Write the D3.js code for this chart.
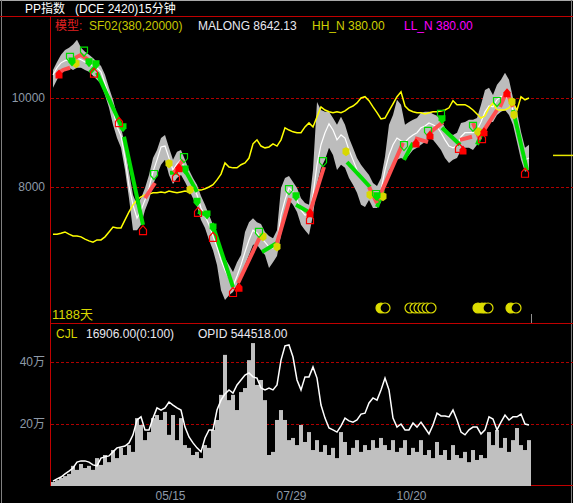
<!DOCTYPE html>
<html><head><meta charset="utf-8">
<script src="https://cdn.jsdelivr.net/npm/d3@7"></script>
<style>
html,body{margin:0;padding:0;background:#000;}
svg{display:block;}
text{font-family:"Liberation Sans","Noto Sans CJK SC",sans-serif;}
</style></head>
<body>
<script>
// ---------- DATA ----------
const priceTicks = [8000, 10000];
const volTicks = [20, 40];
const volTickLabels = ["20万", "40万"];
const dateTickPos = [29.25, 59.5, 89.5];
const dateTickLabels = ["05/15", "07/29", "10/20"];

const closeVals = [10520,10680,10790,10840,10860,10860,10900,10860,10810,10770,10720,10680,10590,10320,10050,9730,9350,9150,8650,8020,
7600,7300,7480,7710,7980,8340,8610,8900,8920,8650,8380,8520,8610,8380,8200,8020,7820,7530,7350,7150,
6900,6650,6360,6130,5950,5770,6000,6250,6540,6810,7030,6970,6850,6760,6650,6630,6740,7370,7710,7980,
7890,7710,7480,7370,7390,7820,8500,8950,9220,9420,9280,9060,9170,9100,8830,8610,8380,8220,8090,8000,
7820,7750,7930,8380,8720,8950,9100,9040,9010,9100,9170,9220,9330,9370,9440,9400,9350,9220,9060,8920,
8880,8920,9130,9220,9220,9220,9280,9460,9690,9820,9800,9960,10030,10050,9960,9730,9350,8900,8610,8650];

const highVals = [10630,10810,10970,11080,11130,11200,11310,11130,11040,10970,10900,10810,10720,10520,10230,9960,9620,9330,8950,8340,
7820,7600,7750,7980,8270,8650,8830,9100,9170,8880,8610,8790,8830,8610,8380,8200,8050,7800,7600,7370,
7150,6920,6630,6400,6250,6090,6310,6470,6990,7210,7300,7210,7170,6990,6900,6850,7030,7980,8200,8250,
8110,7980,7750,7640,7600,8380,9910,9730,9690,9690,9550,9400,9580,9400,9100,8880,8650,8500,8380,8270,
8090,8020,8200,8680,9400,9620,9960,9850,9400,9460,9510,9550,9670,9690,9690,9640,9600,9510,9330,9220,
9170,9220,9440,9460,9510,9510,9550,9850,10180,10230,10070,10300,10410,10570,10410,10000,9690,9240,8880,8950];

const lowVals = [10230,10410,10590,10630,10680,10630,10680,10680,10630,10590,10500,10410,10320,10070,9780,9400,9100,8880,8380,7750,
7030,7030,7150,7480,7710,8050,8270,8500,8610,8270,8070,8200,8270,8110,7930,7750,7570,7260,7080,6810,
6580,6250,5680,5460,5570,5640,5800,6020,6250,6470,6700,6700,6580,6470,6180,6310,6450,6920,7370,7710,
7600,7440,7150,7030,6920,7370,8050,8430,8610,8880,8720,8380,8500,8430,8200,8050,7870,7600,7550,7710,
7530,7530,7660,8050,8380,8500,8610,8650,8610,8720,8830,8880,8950,9010,9100,9060,8950,8830,8650,8540,
8610,8650,8830,8880,8880,8830,8950,9100,9330,9460,9460,9620,9690,9730,9620,9400,9010,8610,8340,8380];

const yellowVals = [6940,6940,6960,6990,6940,6900,6900,6880,6830,6790,6760,6810,6810,6880,6990,7100,7080,7080,7260,7440,
7600,7710,7780,7820,7840,7870,7870,7890,7870,7910,7890,7870,7890,7910,7890,7930,7930,7930,7960,8000,
8050,8160,8290,8540,8450,8430,8430,8500,8540,8650,8970,9060,8920,8880,8900,8970,8920,9060,9330,9280,
9240,9220,9220,9350,9440,9350,9580,9800,9730,9690,9670,9690,9670,9710,9780,9820,9890,10000,10030,9940,
9800,9670,9530,9550,9710,9870,10030,10140,9820,9730,9690,9670,9670,9640,9670,9690,9690,9710,9730,9780,
9940,9850,9850,9850,9800,9730,9640,9550,9600,9780,9890,9730,9730,9730,9780,9890,9730,10030,9960,10000];

const malongMark = 8710;

// trend segments: [barPos, price] polylines
const greenSegs = [
 [[9.25,10570],[11,10750]],
 [[11,10570],[17.5,9280]],
 [[17.75,9130],[22.5,7150]],
 [[29.25,8320],[31.25,8320]],
 [[33,8380],[36,7890]],
 [[36.25,7440],[38.75,7370]],
 [[39.75,7190],[45,5750]],
 [[52.25,6540],[56,6740]],
 [[60.75,7600],[64.25,7420]],
 [[73.5,8560],[79.25,8000]],
 [[81,7550],[82.5,7930]],
 [[87.75,8610],[90,8990]],
 [[97.25,9330],[101.75,8950]],
 [[106,8950],[107.5,9280]],
 [[115,9730],[118.5,8380]]
];
const redSegs = [
 [[1,10540],[2.5,10630],[4.25,10680]],
 [[5.5,10900],[7,10970],[8.75,10860]],
 [[23,7750],[25.5,8090]],
 [[30.25,8320],[32.5,8610]],
 [[46.25,5840],[51.75,6880]],
 [[56,6740],[59.25,7750]],
 [[64.25,7440],[67.75,8450]],
 [[79,8000],[81,7640]],
 [[81.25,7710],[87.5,8990]],
 [[90.5,9100],[93.75,9010]],
 [[94.5,9240],[97.5,9460]],
 [[101.75,9060],[104.75,9130]],
 [[105,9440],[106.75,9060]],
 [[107.75,9280],[111,9730]],
 [[111.75,9800],[113.25,10120]],
 [[113.5,10120],[115,9800]]
];

// signal markers [barPos, price]
const greenHollow = [[4.25,10900],[7.75,11040],[25.25,8270],[32.75,8650],[51.5,6970],[59,7930],[67.5,8560],[80.75,7820],[87.75,8920],[93.75,9240],[97,9620],[105,9350],[111,9910]];
const greenFilled = [[4.75,10810],[9,10790],[10.75,10750],[17.5,9330],[33,8380],[36,7660],[38.5,7370],[40,7080],[60.75,7780],[81,7780],[97.25,9510]];
const redFilled = [[1.5,10540],[31.5,8430],[46.5,5750],[64.25,7420],[90.75,8990],[94.25,9170],[102.5,8830],[107.75,9240],[113.5,10120]];
const redHollow = [[10.25,10570],[16.5,9460],[22.5,7030],[30.75,8230],[36.25,7440],[40,6880],[45,5640],[64.25,7280],[101.5,8880],[107.25,9100],[118,8320]];
const yellowFilled = [[5.75,10770],[29,8520],[34.25,7930],[52.5,6880],[56,6650],[73.25,8790],[79.25,7820],[82.5,7780],[106.25,9240],[114.75,9910],[115.25,9620]];

// bottom signal circles [barPos, filled(1)/outline(0)]
const circleSignals = [[82,1],[83,0],[89.25,0],[90.5,0],[91.5,0],[92.5,0],[93.5,0],[94.5,0],[106.25,1],[107.25,1],[108,1],[108.75,0],[114.5,1],[115.75,0]];

// volume (万) and open interest (万)
const volVals = [1.3,1.9,2.6,3.2,3.9,6.5,5.2,7.1,5.8,6.5,5.2,9.0,6.8,10.0,7.7,11.6,9.0,12.3,10.0,13.2,
11.0,21.9,19.7,14.8,17.4,21.9,22.9,21.3,23.9,16.5,22.9,14.8,21.9,13.2,12.3,10.0,11.0,9.0,13.2,12.3,
18.1,21.3,29.4,42.3,27.7,29.4,24.5,30.3,31.6,40.6,46.1,32.6,34.2,27.7,10.0,11.0,21.3,24.5,21.3,14.8,
15.5,13.2,19.7,14.2,17.4,11.6,14.8,11.0,13.2,10.0,12.3,9.0,17.4,14.2,10.0,12.3,14.8,11.0,13.2,11.6,
14.8,12.3,15.5,13.2,11.6,14.8,11.0,12.3,14.8,10.0,12.3,11.0,14.8,10.0,11.6,9.0,14.2,10.0,11.6,8.4,
13.2,10.0,9.0,11.0,7.7,11.6,8.4,10.0,9.0,17.4,13.2,18.1,12.3,15.5,11.0,14.8,18.7,13.2,11.6,14.8];

const opidVals = [1.6,2.3,2.9,3.9,4.8,5.8,7.7,8.1,8.1,7.7,6.8,6.5,9.0,9.4,9.7,11.0,12.3,12.6,12.9,13.9,
16.5,21.3,22.3,18.1,18.1,21.9,25.2,24.5,25.2,27.1,26.1,25.2,24.5,19.0,15.8,13.9,12.3,11.0,15.5,18.1,
18.1,24.5,27.7,29.7,31.0,30.0,32.6,34.2,35.8,36.5,35.2,34.8,31.6,31.0,31.6,31.0,32.6,40.6,45.2,45.5,
41.6,34.2,31.0,35.2,35.2,38.4,34.8,26.1,21.9,18.7,18.1,17.4,19.4,21.9,21.0,20.6,21.3,23.2,23.5,26.8,
28.4,27.7,31.0,34.8,31.0,21.9,19.0,20.0,18.1,18.1,20.3,19.0,20.6,18.7,16.8,19.7,23.5,22.6,22.6,22.3,
24.5,21.3,17.4,16.5,18.1,19.0,19.0,16.8,18.1,22.3,21.6,18.1,20.6,22.9,21.3,22.3,22.3,23.2,20.0,19.7];

// ---------- DRAW ----------
const W = 573, H = 503;
const svg = d3.select("body").append("svg").attr("width", W).attr("height", H);
svg.append("rect").attr("width", W).attr("height", H).attr("fill", "#000");

const x = d3.scaleLinear().domain([0, 119]).range([53, 529]);
const yP = d3.scaleLinear().domain([8000, 10000]).range([187, 98]);
const yV = d3.scaleLinear().domain([0, 40]).range([486, 362]);

const RED = "#c00000";
const GRID = "#b00000";
const AXIS_TXT = "#8e9aa8";

// frame
svg.append("line").attr("x1",0).attr("x2",W).attr("y1",0.5).attr("y2",0.5).attr("stroke","#a8a8a8");
svg.append("line").attr("x1",1.5).attr("x2",1.5).attr("y1",0).attr("y2",H).attr("stroke","#808080");
svg.append("line").attr("x1",571.5).attr("x2",571.5).attr("y1",0).attr("y2",H).attr("stroke","#808080");
svg.append("line").attr("x1",0).attr("x2",W).attr("y1",16.5).attr("y2",16.5).attr("stroke",RED);
svg.append("line").attr("x1",50.5).attr("x2",50.5).attr("y1",16).attr("y2",485).attr("stroke",RED);
svg.append("line").attr("x1",50).attr("x2",W).attr("y1",323.5).attr("y2",323.5).attr("stroke",RED);
svg.append("line").attr("x1",50).attr("x2",W).attr("y1",485.5).attr("y2",485.5).attr("stroke",RED);

// title
svg.append("text").attr("x",25).attr("y",12.5).attr("fill","#ffffff").attr("font-size",12).text("PP指数");
svg.append("text").attr("x",75).attr("y",12.5).attr("fill","#ffffff").attr("font-size",12).text("(DCE 2420)15分钟");

// grid lines
svg.append("g").selectAll("line").data(priceTicks).join("line")
  .attr("x1",51).attr("x2",W).attr("y1",d=>Math.round(yP(d))+0.5).attr("y2",d=>Math.round(yP(d))+0.5)
  .attr("stroke",GRID).attr("stroke-dasharray","3,2");
svg.append("g").selectAll("line").data(volTicks).join("line")
  .attr("x1",51).attr("x2",W).attr("y1",d=>Math.round(yV(d))+0.5).attr("y2",d=>Math.round(yV(d))+0.5)
  .attr("stroke",GRID).attr("stroke-dasharray","3,2");

// y axes
const axP = svg.append("g").attr("transform","translate(48,0)")
  .call(d3.axisLeft(yP).tickValues(priceTicks).tickSize(0).tickFormat(d3.format("d")));
const axV = svg.append("g").attr("transform","translate(48,0)")
  .call(d3.axisLeft(yV).tickValues(volTicks).tickSize(0).tickFormat((d,i)=>volTickLabels[i]));
const axX = svg.append("g").attr("transform","translate(0,488)")
  .call(d3.axisBottom(x).tickValues(dateTickPos).tickSize(0).tickFormat((d,i)=>dateTickLabels[i]));
[axP, axV, axX].forEach(a=>{
  a.select(".domain").remove();
  a.selectAll("text").attr("fill",AXIS_TXT).attr("font-size",12)
    .attr("font-family",'"Liberation Sans","Noto Sans CJK SC",sans-serif');
});
axP.selectAll("text").attr("dx",0);
axV.selectAll("text").attr("dx",0);

// price pane: gray high-low band
const idx = d3.range(closeVals.length);
svg.append("path").datum(idx)
  .attr("d", d3.area().x(i=>x(i)).y0(i=>yP(lowVals[i])).y1(i=>yP(highVals[i])))
  .attr("fill","#bcbcbc");

// white close line
svg.append("path").datum(idx)
  .attr("d", d3.line().x(i=>x(i)).y(i=>yP(closeVals[i])))
  .attr("fill","none").attr("stroke","#ffffff").attr("stroke-width",1.2);

// yellow line
svg.append("path").datum(idx)
  .attr("d", d3.line().x(i=>x(i)).y(i=>yP(yellowVals[i])))
  .attr("fill","none").attr("stroke","#ffff00").attr("stroke-width",1.5);

// right-edge yellow marker
svg.append("line").attr("x1",553).attr("x2",573)
  .attr("y1",yP(malongMark)).attr("y2",yP(malongMark)).attr("stroke","#e8e800").attr("stroke-width",1.5);

// trend segments
const segLine = d3.line().x(d=>x(d[0])).y(d=>yP(d[1]));
svg.append("g").selectAll("path").data(greenSegs).join("path")
  .attr("d", segLine).attr("fill","none").attr("stroke","#00dd00").attr("stroke-width",4).attr("stroke-linecap","butt");
svg.append("g").selectAll("path").data(redSegs).join("path")
  .attr("d", segLine).attr("fill","none").attr("stroke","#ff5050").attr("stroke-width",4).attr("stroke-linecap","butt");

// markers
const downShape = "M-3.5,-4.5L3.5,-4.5L3.5,0.5L0,4.5L-3.5,0.5Z";
const upShape = "M-3.5,4.5L3.5,4.5L3.5,-0.5L0,-4.5L-3.5,-0.5Z";
const blobShape = "M-3.5,-3L0,-4.5L3.5,-3L3.5,2L0,4.5L-3.5,2Z";
function markers(data, shape, fill, stroke){
  svg.append("g").selectAll("path").data(data).join("path")
    .attr("transform", d=>`translate(${x(d[0])},${yP(d[1])})`)
    .attr("d", shape).attr("fill", fill).attr("stroke", stroke).attr("stroke-width",1.2);
}
markers(yellowFilled, blobShape, "#d8d800", "none");
markers(greenHollow, downShape, "none", "#00e000");
markers(greenFilled, downShape, "#00e000", "none");
markers(redHollow, upShape, "none", "#ff0000");
markers(redFilled, upShape, "#ff0000", "none");

// bottom signal circles
svg.append("g").selectAll("circle").data(circleSignals).join("circle")
  .attr("cx", d=>x(d[0])).attr("cy",308).attr("r",5)
  .attr("fill", d=>d[1] ? "#dcdc00" : "#000")
  .attr("stroke","#dcdc00").attr("stroke-width",1.2);
svg.append("line").attr("x1",531.5).attr("x2",531.5).attr("y1",314).attr("y2",323).attr("stroke","#909090");

// legend price pane
const lg = [
  {x:55, t:"模型:", c:"#e02020"},
  {x:89, t:"SF02(380,20000)", c:"#c8c800"},
  {x:198, t:"MALONG 8642.13", c:"#e8e8f0"},
  {x:312, t:"HH_N 380.00", c:"#d0d000"},
  {x:404, t:"LL_N 380.00", c:"#ff00ff"}
];
svg.append("g").selectAll("text").data(lg).join("text")
  .attr("x",d=>d.x).attr("y",29.5).attr("fill",d=>d.c).attr("font-size",12).text(d=>d.t);
svg.append("text").attr("x",52).attr("y",319).attr("fill","#d8d800").attr("font-size",13).text("1188天");

// volume pane
svg.append("g").selectAll("rect").data(idx).join("rect")
  .attr("x", i=>x(i)-2).attr("width",4)
  .attr("y", i=>yV(volVals[i])).attr("height", i=>yV(0)-yV(volVals[i]))
  .attr("fill","#c0c0c0");
svg.append("path").datum(idx)
  .attr("d", d3.line().x(i=>x(i)).y(i=>yV(opidVals[i])))
  .attr("fill","none").attr("stroke","#ffffff").attr("stroke-width",1.5);

const lg2 = [
  {x:56, t:"CJL", c:"#d8d800"},
  {x:86, t:"16906.00(0:100)", c:"#e8e8f0"},
  {x:198, t:"OPID 544518.00", c:"#e8e8f0"}
];
svg.append("g").selectAll("text").data(lg2).join("text")
  .attr("x",d=>d.x).attr("y",337.5).attr("fill",d=>d.c).attr("font-size",12).text(d=>d.t);
</script>
</body></html>
